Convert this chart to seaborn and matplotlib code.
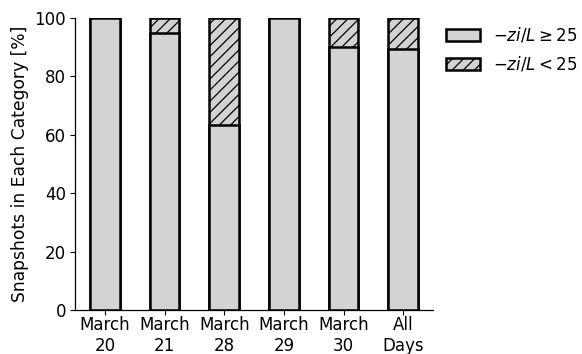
import matplotlib
matplotlib.use("Agg")
import matplotlib.pyplot as plt
import matplotlib.patches as mpatches
import seaborn as sns
import pandas as pd

categories = ["March\n20", "March\n21", "March\n28", "March\n29", "March\n30", "All\nDays"]
high_share = [100.0, 95.0, 63.3, 100.0, 90.0, 89.5]   # -zi/L >= 25
low_share = [0.0, 5.0, 36.7, 0.0, 10.0, 10.5]         # -zi/L < 25

label_high = r"$-zi/L \geq 25$"
label_low = r"$-zi/L < 25$"

sns.set_style("ticks")
plt.rcParams.update({
    "font.family": ["DejaVu Sans"],
    "text.color": "black",
    "axes.labelcolor": "black",
    "axes.edgecolor": "black",
    "xtick.color": "black",
    "ytick.color": "black",
    "hatch.linewidth": 0.9,
    "hatch.color": "#333333",
})

df = pd.DataFrame({
    "cat": categories,
    "high": high_share,
    "total": [h + l for h, l in zip(high_share, low_share)],
})

fig = plt.figure(figsize=(5.82, 3.54), dpi=100)
ax = fig.add_axes([0.129, 0.124, 0.615, 0.825])

face = "lightgray"
# full stack (hatched), then the lower segment drawn over it
sns.barplot(data=df, x="cat", y="total", ax=ax, color=face, width=0.5,
            edgecolor="black", linewidth=1.8, hatch="///", saturation=1)
sns.barplot(data=df, x="cat", y="high", ax=ax, color=face, width=0.5,
            edgecolor="black", linewidth=1.8, saturation=1)

ax.set_ylim(0, 100)
ax.set_xlabel("")
ax.set_ylabel("Snapshots in Each Category [%]", fontsize=12.3)
ax.tick_params(axis="both", labelsize=12, length=3.5, width=0.8, pad=3)
ax.tick_params(axis="x", pad=1)
for s in ("left", "bottom"):
    ax.spines[s].set_linewidth(0.9)
sns.despine(ax=ax)

handles = [
    mpatches.Patch(facecolor=face, edgecolor="black", linewidth=1.8, label=label_high),
    mpatches.Patch(facecolor=face, edgecolor="black", linewidth=1.8, hatch="///", label=label_low),
]
ax.legend(handles=handles, loc="upper left", bbox_to_anchor=(0.995, 1.025),
          frameon=False, fontsize=12, labelspacing=0.6)

fig.savefig("out.png", dpi=100)
